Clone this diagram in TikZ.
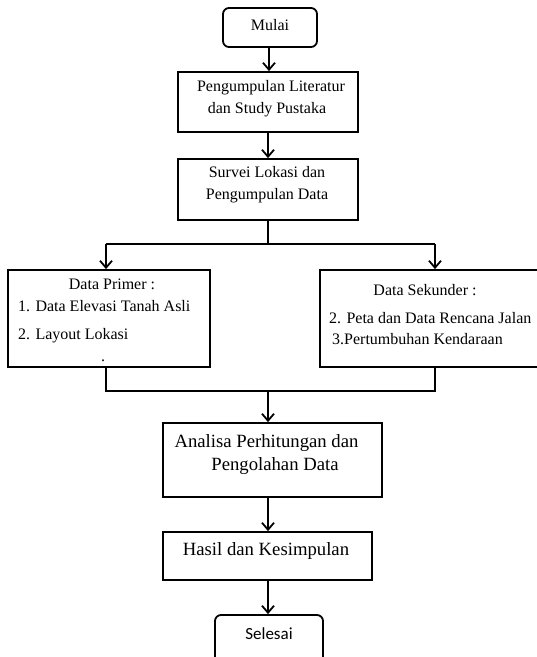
\documentclass[tikz,border=0pt]{standalone}
\usepackage{fontspec}
\setmainfont{Liberation Serif}
\newfontfamily\calib{Carlito}
\usetikzlibrary{arrows.meta}
\begin{document}
\begin{tikzpicture}[x=1pt,y=-1pt,
  box/.style={draw, line width=1.8pt, rectangle, inner sep=0pt},
  rbox/.style={box, rounded corners=6pt},
  txt/.style={inner sep=0pt, anchor=mid, font=\fontsize{16}{20}\selectfont},
  ltxt/.style={txt, anchor=mid west},
  bigtxt/.style={inner sep=0pt, anchor=mid, font=\fontsize{18.7}{24}\selectfont},
  arr/.style={line width=1.8pt, -{Straight Barb[length=7pt,width=12pt,line width=1.8pt]}},
  ln/.style={line width=1.8pt}]
\useasboundingbox (0,0) rectangle (537,657);
\clip (0,0) rectangle (537,657);
% boxes
\node[rbox, minimum width=94pt, minimum height=39pt] (mulai) at (270,27.5) {};
\node[box, minimum width=180pt, minimum height=60pt] (lit) at (268,102) {};
\node[box, minimum width=180pt, minimum height=61pt] (survei) at (268,189.5) {};
\node[box, minimum width=202pt, minimum height=97pt] (primer) at (109,318.5) {};
\node[box, minimum width=225pt, minimum height=97pt] (sekunder) at (432.5,318.5) {};
\node[box, minimum width=219pt, minimum height=74pt] (analisa) at (272.5,460) {};
\node[box, minimum width=209pt, minimum height=48pt] (hasil) at (267.5,556) {};
\node[rbox, minimum width=108pt, minimum height=50pt] (selesai) at (269,640) {};
% texts
\node[txt] (t1) at (270,28) {Mulai};
\node[txt] (t2a) at (271,89) {Pengumpulan Literatur};
\node[txt] (t2b) at (267,111) {dan Study Pustaka};
\node[txt] (t3a) at (267,175) {Survei Lokasi dan};
\node[txt] (t3b) at (267,197) {Pengumpulan Data};
\node[txt] (p0) at (112,287) {Data Primer :};
\node[ltxt] (p1) at (18,309) {1. Data Elevasi Tanah Asli};
\node[ltxt] (p2) at (18,337) {2. Layout Lokasi};
\node[inner sep=0pt, font=\fontsize{16}{20}\selectfont, anchor=base] (p3) at (103,361) {.};
\node[txt] (s0) at (425,293) {Data Sekunder :};
\node[ltxt] (s1) at (329,321) {2. Peta dan Data Rencana Jalan};
\node[ltxt] (s2) at (332,342) {3.Pertumbuhan Kendaraan};
\node[bigtxt] (t4a) at (266.5,445) {Analisa Perhitungan dan};
\node[bigtxt] (t4b) at (275,468) {Pengolahan Data};
\node[bigtxt] (t5) at (266,553) {Hasil dan Kesimpulan};
\node[inner sep=0pt, anchor=mid, font=\calib\fontsize{17}{20}\selectfont] (t6) at (269,637) {Selesai};
% connectors
\coordinate (m0) at (269,47);
\coordinate (split) at (268,244);
\coordinate (sL) at (106,244);
\coordinate (sR) at (435,244);
\coordinate (jL) at (106,391);
\coordinate (jR) at (435,391);
\coordinate (jM) at (268,391);
\coordinate (a1) at (268,497);
\coordinate (a2) at (268,580);
\draw[arr] (m0) -- (m0 |- lit.north);
\draw[arr] (lit.south) -- (survei.north);
\draw[ln] (survei.south) -- (split);
\draw[ln] (sL) -- (sR);
\draw[arr] (sL) -- (sL |- primer.north);
\draw[arr] (sR) -- (sR |- sekunder.north);
\draw[ln] (jL |- primer.south) -- (jL) -- (jR) -- (jR |- sekunder.south);
\draw[arr] (jM) -- (jM |- analisa.north);
\draw[arr] (a1) -- (a1 |- hasil.north);
\draw[arr] (a2) -- (a2 |- selesai.north);
\end{tikzpicture}
\end{document}
